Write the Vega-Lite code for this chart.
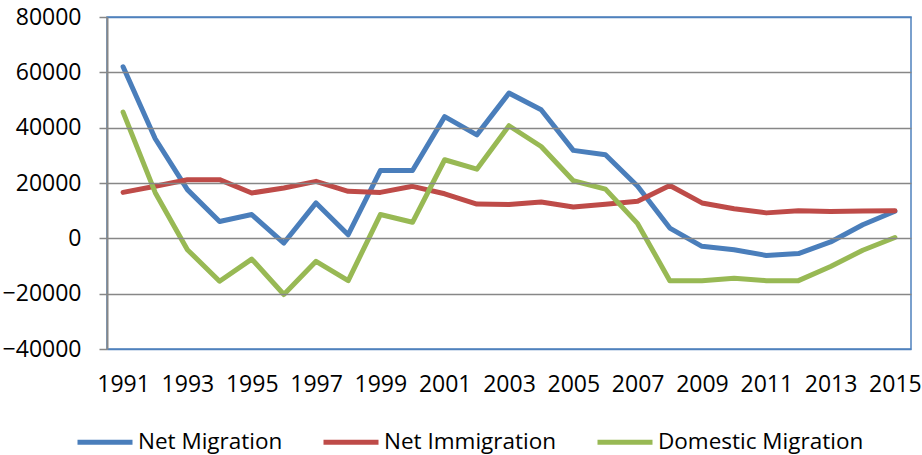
{
  "$schema": "https://vega.github.io/schema/vega-lite/v6.json",
  "width": 804,
  "height": 332,
  "autosize": {"type": "none"},
  "padding": {"left": 107, "top": 17, "right": 11, "bottom": 106},
  "background": "white",
  "config": {
    "view": {"stroke": "#4F81BD", "strokeWidth": 1.5},
    "font": "Open Sans"
  },
  "data": {
    "values": [
      {"year": 1991, "series": "Net Migration", "value": 62000},
      {"year": 1992, "series": "Net Migration", "value": 36000},
      {"year": 1993, "series": "Net Migration", "value": 17600},
      {"year": 1994, "series": "Net Migration", "value": 6100},
      {"year": 1995, "series": "Net Migration", "value": 8600},
      {"year": 1996, "series": "Net Migration", "value": -1700},
      {"year": 1997, "series": "Net Migration", "value": 12800},
      {"year": 1998, "series": "Net Migration", "value": 1300},
      {"year": 1999, "series": "Net Migration", "value": 24500},
      {"year": 2000, "series": "Net Migration", "value": 24500},
      {"year": 2001, "series": "Net Migration", "value": 44000},
      {"year": 2002, "series": "Net Migration", "value": 37400},
      {"year": 2003, "series": "Net Migration", "value": 52500},
      {"year": 2004, "series": "Net Migration", "value": 46500},
      {"year": 2005, "series": "Net Migration", "value": 31800},
      {"year": 2006, "series": "Net Migration", "value": 30200},
      {"year": 2007, "series": "Net Migration", "value": 18800},
      {"year": 2008, "series": "Net Migration", "value": 3700},
      {"year": 2009, "series": "Net Migration", "value": -2900},
      {"year": 2010, "series": "Net Migration", "value": -4100},
      {"year": 2011, "series": "Net Migration", "value": -6200},
      {"year": 2012, "series": "Net Migration", "value": -5500},
      {"year": 2013, "series": "Net Migration", "value": -1300},
      {"year": 2014, "series": "Net Migration", "value": 4900},
      {"year": 2015, "series": "Net Migration", "value": 9800},
      {"year": 1991, "series": "Net Immigration", "value": 16600},
      {"year": 1992, "series": "Net Immigration", "value": 18800},
      {"year": 1993, "series": "Net Immigration", "value": 21200},
      {"year": 1994, "series": "Net Immigration", "value": 21200},
      {"year": 1995, "series": "Net Immigration", "value": 16400},
      {"year": 1996, "series": "Net Immigration", "value": 18200},
      {"year": 1997, "series": "Net Immigration", "value": 20600},
      {"year": 1998, "series": "Net Immigration", "value": 17000},
      {"year": 1999, "series": "Net Immigration", "value": 16600},
      {"year": 2000, "series": "Net Immigration", "value": 18800},
      {"year": 2001, "series": "Net Immigration", "value": 16100},
      {"year": 2002, "series": "Net Immigration", "value": 12400},
      {"year": 2003, "series": "Net Immigration", "value": 12200},
      {"year": 2004, "series": "Net Immigration", "value": 13100},
      {"year": 2005, "series": "Net Immigration", "value": 11300},
      {"year": 2006, "series": "Net Immigration", "value": 12300},
      {"year": 2007, "series": "Net Immigration", "value": 13400},
      {"year": 2008, "series": "Net Immigration", "value": 19100},
      {"year": 2009, "series": "Net Immigration", "value": 12800},
      {"year": 2010, "series": "Net Immigration", "value": 10700},
      {"year": 2011, "series": "Net Immigration", "value": 9200},
      {"year": 2012, "series": "Net Immigration", "value": 10000},
      {"year": 2013, "series": "Net Immigration", "value": 9700},
      {"year": 2014, "series": "Net Immigration", "value": 9900},
      {"year": 2015, "series": "Net Immigration", "value": 10000},
      {"year": 1991, "series": "Domestic Migration", "value": 45600},
      {"year": 1992, "series": "Domestic Migration", "value": 16500},
      {"year": 1993, "series": "Domestic Migration", "value": -4100},
      {"year": 1994, "series": "Domestic Migration", "value": -15500},
      {"year": 1995, "series": "Domestic Migration", "value": -7500},
      {"year": 1996, "series": "Domestic Migration", "value": -20300},
      {"year": 1997, "series": "Domestic Migration", "value": -8300},
      {"year": 1998, "series": "Domestic Migration", "value": -15300},
      {"year": 1999, "series": "Domestic Migration", "value": 8600},
      {"year": 2000, "series": "Domestic Migration", "value": 5800},
      {"year": 2001, "series": "Domestic Migration", "value": 28400},
      {"year": 2002, "series": "Domestic Migration", "value": 25000},
      {"year": 2003, "series": "Domestic Migration", "value": 40700},
      {"year": 2004, "series": "Domestic Migration", "value": 33200},
      {"year": 2005, "series": "Domestic Migration", "value": 20800},
      {"year": 2006, "series": "Domestic Migration", "value": 17800},
      {"year": 2007, "series": "Domestic Migration", "value": 5300},
      {"year": 2008, "series": "Domestic Migration", "value": -15300},
      {"year": 2009, "series": "Domestic Migration", "value": -15300},
      {"year": 2010, "series": "Domestic Migration", "value": -14400},
      {"year": 2011, "series": "Domestic Migration", "value": -15300},
      {"year": 2012, "series": "Domestic Migration", "value": -15300},
      {"year": 2013, "series": "Domestic Migration", "value": -10200},
      {"year": 2014, "series": "Domestic Migration", "value": -4300},
      {"year": 2015, "series": "Domestic Migration", "value": 300}
    ]
  },
  "mark": {"type": "line", "strokeWidth": 5, "strokeJoin": "round", "strokeCap": "round"},
  "encoding": {
    "x": {
      "field": "year",
      "type": "quantitative",
      "scale": {"domain": [1990.5, 2015.5], "nice": false, "zero": false},
      "axis": {
        "title": null,
        "values": [1991, 1993, 1995, 1997, 1999, 2001, 2003, 2005, 2007, 2009, 2011, 2013, 2015],
        "format": "d",
        "grid": false,
        "ticks": false,
        "domain": false,
        "labelFont": "Open Sans",
        "labelFontSize": 23,
        "labelColor": "#000000",
        "labelPadding": 24,
        "labelBaseline": "top"
      }
    },
    "y": {
      "field": "value",
      "type": "quantitative",
      "scale": {"domain": [-40000, 80000], "nice": false},
      "axis": {
        "title": null,
        "values": [-40000, -20000, 0, 20000, 40000, 60000, 80000],
        "format": "d",
        "grid": true,
        "gridColor": {"condition": {"test": "datum.value == 80000 || datum.value == -40000", "value": "#4F81BD"}, "value": "#878787"},
        "gridWidth": 1.5,
        "tickSize": 8,
        "tickColor": "#878787",
        "tickWidth": 1.5,
        "domainColor": "#878787",
        "domainWidth": 2,
        "labelFont": "Open Sans",
        "labelFontSize": 23,
        "labelColor": "#000000",
        "labelPadding": 18,
        "zindex": 1
      }
    },
    "color": {
      "field": "series",
      "type": "nominal",
      "scale": {
        "domain": ["Net Migration", "Net Immigration", "Domestic Migration"],
        "range": ["#4A7EBB", "#BE4B48", "#98B954"]
      },
      "legend": {
        "title": null,
        "orient": "none",
        "direction": "horizontal",
        "legendX": -32,
        "legendY": 395,
        "symbolType": "stroke",
        "symbolSize": 3025,
        "symbolStrokeWidth": 5,
        "labelFont": "Open Sans",
        "labelFontSize": 22.5,
        "labelColor": "#000000",
        "labelOffset": 3,
        "columnPadding": 30,
        "labelLimit": 400
      }
    }
  }
}
